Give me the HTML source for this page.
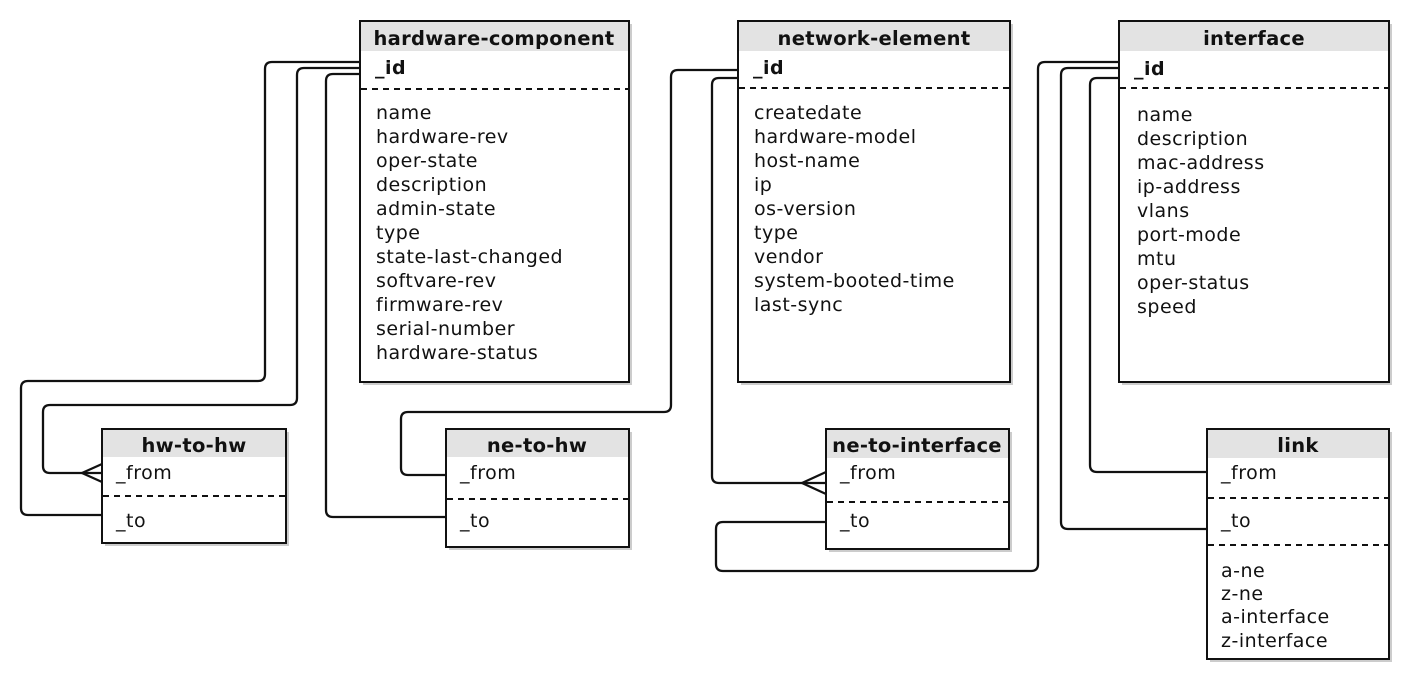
<!DOCTYPE html>
<html><head><meta charset="utf-8"><style>
html,body{margin:0;padding:0;background:#fff;}
svg{display:block;}
text{font-family:"DejaVu Sans","Liberation Sans",sans-serif;font-size:19px;letter-spacing:0.5px;fill:#111;}
.t{font-weight:bold;font-size:19.5px;letter-spacing:0.3px;}
.b{font-weight:bold;}
.box{fill:#fff;stroke:#111;stroke-width:2;}
.sh{fill:#ccc;}
.hd{fill:#e3e3e3;}
.ds{stroke:#111;stroke-width:2;stroke-dasharray:6,5;}
.c{fill:none;stroke:#111;stroke-width:2.3;stroke-linejoin:round;}
</style></head><body>
<svg width="1424" height="692" viewBox="0 0 1424 692">
<g class="c">
<path d="M360 62 H272 Q265 62 265 69 V374 Q265 381 258 381 H28 Q21 381 21 388 V508 Q21 515 28 515 H102"/>
<path d="M360 68 H304 Q297 68 297 75 V398 Q297 405 290 405 H50 Q43 405 43 412 V466 Q43 473 50 473 H102"/>
<path d="M82 473 L102 464 M82 473 L102 482"/>
<path d="M360 74 H333 Q326 74 326 81 V510 Q326 517 333 517 H446"/>
<path d="M738 70 H678 Q671 70 671 77 V405 Q671 412 664 412 H408 Q401 412 401 419 V468 Q401 475 408 475 H446"/>
<path d="M738 78 H719 Q712 78 712 85 V476 Q712 483 719 483 H826"/>
<path d="M802 483 L826 472 M802 483 L826 494"/>
<path d="M1119 62 H1045 Q1038 62 1038 69 V564 Q1038 571 1031 571 H723 Q716 571 716 564 V529 Q716 522 723 522 H826"/>
<path d="M1119 68 H1068 Q1061 68 1061 75 V522 Q1061 529 1068 529 H1207"/>
<path d="M1119 78 H1097 Q1090 78 1090 85 V465 Q1090 472 1097 472 H1207"/>
</g>
<rect class="sh" x="363" y="24" width="269" height="361"/>
<rect class="box" x="360" y="21" width="269" height="361"/>
<rect class="hd" x="361" y="22" width="267" height="29"/>
<text class="t" x="494" y="45" text-anchor="middle">hardware-component</text>
<text class="b" x="375" y="74">_id</text>
<line class="ds" x1="361" y1="89" x2="628" y2="89"/>
<text x="376" y="119">name</text><text x="376" y="143">hardware-rev</text><text x="376" y="167">oper-state</text><text x="376" y="191">description</text><text x="376" y="215">admin-state</text><text x="376" y="239">type</text><text x="376" y="263">state-last-changed</text><text x="376" y="287">softvare-rev</text><text x="376" y="311">firmware-rev</text><text x="376" y="335">serial-number</text><text x="376" y="359">hardware-status</text>
<rect class="sh" x="741" y="24" width="272" height="361"/>
<rect class="box" x="738" y="21" width="272" height="361"/>
<rect class="hd" x="739" y="22" width="270" height="29"/>
<text class="t" x="874" y="45" text-anchor="middle">network-element</text>
<text class="b" x="753" y="74">_id</text>
<line class="ds" x1="739" y1="88" x2="1009" y2="88"/>
<text x="754" y="119">createdate</text><text x="754" y="143">hardware-model</text><text x="754" y="167">host-name</text><text x="754" y="191">ip</text><text x="754" y="215">os-version</text><text x="754" y="239">type</text><text x="754" y="263">vendor</text><text x="754" y="287">system-booted-time</text><text x="754" y="311">last-sync</text>
<rect class="sh" x="1122" y="24" width="270" height="361"/>
<rect class="box" x="1119" y="21" width="270" height="361"/>
<rect class="hd" x="1120" y="22" width="268" height="29"/>
<text class="t" x="1254" y="45" text-anchor="middle">interface</text>
<text class="b" x="1134" y="75">_id</text>
<line class="ds" x1="1120" y1="88" x2="1388" y2="88"/>
<text x="1137" y="121">name</text><text x="1137" y="145">description</text><text x="1137" y="169">mac-address</text><text x="1137" y="193">ip-address</text><text x="1137" y="217">vlans</text><text x="1137" y="241">port-mode</text><text x="1137" y="265">mtu</text><text x="1137" y="289">oper-status</text><text x="1137" y="313">speed</text>
<rect class="sh" x="105" y="432" width="184" height="114"/>
<rect class="box" x="102" y="429" width="184" height="114"/>
<rect class="hd" x="103" y="430" width="182" height="27"/>
<text class="t" x="194" y="452" text-anchor="middle">hw-to-hw</text>
<text x="116" y="479">_from</text>
<line class="ds" x1="103" y1="496" x2="285" y2="496"/>
<text x="116" y="527">_to</text>
<rect class="sh" x="449" y="432" width="183" height="118"/>
<rect class="box" x="446" y="429" width="183" height="118"/>
<rect class="hd" x="447" y="430" width="181" height="27"/>
<text class="t" x="537" y="452" text-anchor="middle">ne-to-hw</text>
<text x="460" y="479">_from</text>
<line class="ds" x1="447" y1="499" x2="628" y2="499"/>
<text x="460" y="527">_to</text>
<rect class="sh" x="829" y="432" width="183" height="120"/>
<rect class="box" x="826" y="429" width="183" height="120"/>
<rect class="hd" x="827" y="430" width="181" height="28"/>
<text class="t" x="917" y="452" text-anchor="middle">ne-to-interface</text>
<text x="840" y="479">_from</text>
<line class="ds" x1="827" y1="502" x2="1008" y2="502"/>
<text x="840" y="527">_to</text>
<rect class="sh" x="1210" y="432" width="182" height="230"/>
<rect class="box" x="1207" y="429" width="182" height="230"/>
<rect class="hd" x="1208" y="430" width="180" height="28"/>
<text class="t" x="1298" y="452" text-anchor="middle">link</text>
<text x="1221" y="479">_from</text>
<line class="ds" x1="1208" y1="498" x2="1388" y2="498"/>
<text x="1221" y="527">_to</text>
<line class="ds" x1="1208" y1="545" x2="1388" y2="545"/>
<text x="1221" y="577">a-ne</text><text x="1221" y="600">z-ne</text><text x="1221" y="623">a-interface</text><text x="1221" y="647">z-interface</text>
</svg>
</body></html>
